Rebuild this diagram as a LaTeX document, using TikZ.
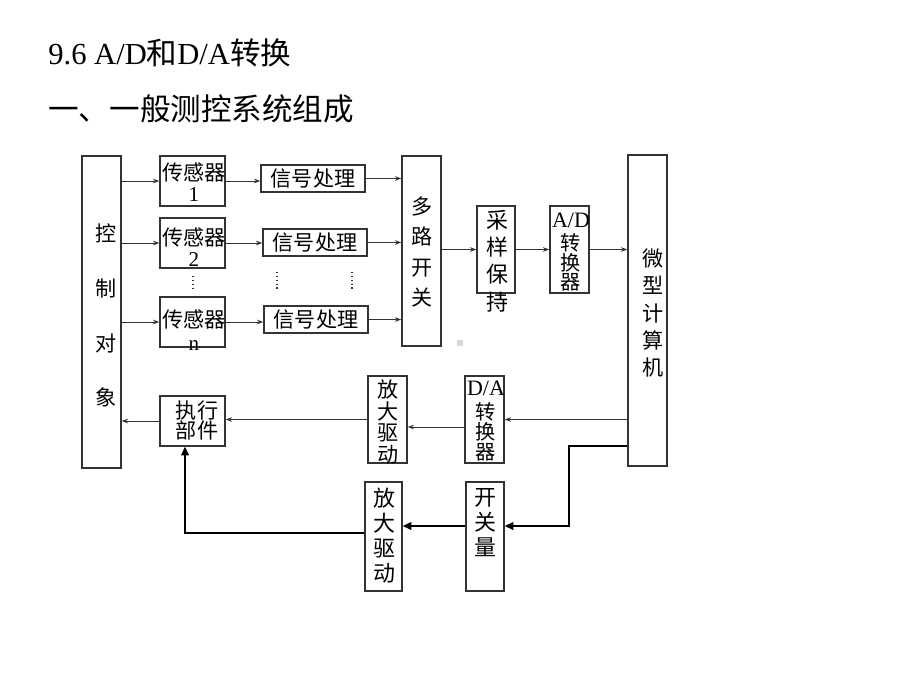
\documentclass[tikz,border=0pt]{standalone}
\usepackage{fontspec}
\setmainfont{Liberation Serif}
\newfontfamily\cn{Noto Sans CJK SC}
\usetikzlibrary{arrows.meta,calc}
\def\pxu{0.02cm}
\newcommand{\vfont}[2]{\cn\fontsize{#1}{#2}\selectfont\lineskiplimit=-100pt\lineskip=0pt}
\begin{document}
\begin{tikzpicture}[x=0.02cm,y=-0.02cm,
  box/.style={draw=black!80,line width=0.8pt,inner sep=0pt,rectangle},
  txt/.style={inner sep=0pt,align=center},
  arr/.style={draw=black!80,line width=0.5pt,-{Stealth[length=3.6pt,width=2.6pt]}},
  farr/.style={draw=black,line width=0.6pt,-{Triangle[length=5pt,width=4.5pt]}},
  dots/.style={draw=black!80,line width=0.8pt,dash pattern=on 0.6pt off 1.6pt}]
\useasboundingbox (0,0) rectangle (920,690);
% titles
\node[anchor=base west,inner sep=0pt] (title1) at (48,64)
  {\fontsize{17.4}{20}\selectfont 9.6 A/D{\cn 和}D/A{\cn 转换}};
\node[anchor=base west,inner sep=0pt] (title2) at (48,120)
  {\fontsize{17.4}{20}\selectfont\cn 一、一般测控系统组成};
% boxes
\node[box,minimum width=39*\pxu,minimum height=312*\pxu] (ctrl) at (101.5,312) {};
\node[box,minimum width=65*\pxu,minimum height=50*\pxu] (s1) at (192.5,181) {};
\node[box,minimum width=65*\pxu,minimum height=50*\pxu] (s2) at (192.5,243) {};
\node[box,minimum width=65*\pxu,minimum height=50*\pxu] (sn) at (192.5,322) {};
\node[box,minimum width=104*\pxu,minimum height=27*\pxu] (p1) at (313,178.5) {};
\node[box,minimum width=104*\pxu,minimum height=27*\pxu] (p2) at (315,242.5) {};
\node[box,minimum width=104*\pxu,minimum height=27*\pxu] (pn) at (316,319.5) {};
\node[box,minimum width=39*\pxu,minimum height=190*\pxu] (mux) at (421.5,251) {};
\node[box,minimum width=38*\pxu,minimum height=87*\pxu] (sh) at (496,249.5) {};
\node[box,minimum width=39*\pxu,minimum height=87*\pxu] (ad) at (569.5,249.5) {};
\node[box,minimum width=39*\pxu,minimum height=311*\pxu] (mcu) at (647.5,310.5) {};
\node[box,minimum width=65*\pxu,minimum height=50*\pxu] (exec) at (192.5,421) {};
\node[box,minimum width=39*\pxu,minimum height=87*\pxu] (amp1) at (387.5,419.5) {};
\node[box,minimum width=39*\pxu,minimum height=87*\pxu] (da) at (484.5,419.5) {};
\node[box,minimum width=37*\pxu,minimum height=109*\pxu] (amp2) at (383.5,536.5) {};
\node[box,minimum width=38*\pxu,minimum height=109*\pxu] (sw) at (485,536.5) {};
% texts
\node[txt,font=\vfont{12}{31.2}] (t-ctrl) at (106,315.5) {控\\制\\对\\象};
\node[txt,font=\vfont{12}{11.9}] (t-s1) at (194,182.5) {传感器\\\rmfamily 1};
\node[txt,font=\vfont{12}{11.9}] (t-s2) at (194,247.5) {传感器\\\rmfamily 2};
\node[txt,font=\vfont{12}{13.2}] (t-sn) at (194,330) {传感器\\\rmfamily n};
\node[txt,font=\vfont{12}{14}] (t-p1) at (313,178.5) {信号处理};
\node[txt,font=\vfont{12}{14}] (t-p2) at (315,242.5) {信号处理};
\node[txt,font=\vfont{12}{14}] (t-pn) at (316,319.5) {信号处理};
\node[txt,font=\vfont{12}{17.4}] (t-mux) at (422,252) {多\\路\\开\\关};
\node[txt,font=\vfont{12.5}{15.5}] (t-sh) at (497,261) {采\\样\\保\\持};
\node[txt,font=\vfont{11.5}{11}] (t-ad) at (571,252) {{\rmfamily\fontsize{12.5}{11}\selectfont A/D}\\[2.5pt]转\\换\\器};
\node[txt,font=\vfont{12}{15.6}] (t-mcu) at (653,313) {微\\型\\计\\算\\机};
\node[txt,font=\vfont{12}{11.9}] (t-exec) at (197,420.5) {执行\\部件};
\node[txt,font=\vfont{12}{12.3}] (t-amp1) at (388,422) {放\\大\\驱\\动};
\node[txt,font=\vfont{11.5}{11.3}] (t-da) at (486,421) {{\rmfamily\fontsize{12.5}{11}\selectfont D/A}\\[2.5pt]转\\换\\器};
\node[txt,font=\vfont{12.5}{14.2}] (t-amp2) at (384,535.5) {放\\大\\驱\\动};
\node[txt,font=\vfont{12.5}{14.2}] (t-sw) at (485,523) {开\\关\\量};
% dots
\draw[dots] (193,276) -- (193,290);
\draw[dots] (277,272) -- (277,289);
\draw[dots] (352,272) -- (352,289);
\fill[black!15] (457,340) rectangle (463,346);
% connectors forward
\draw[arr] (ctrl.east |- s1.west) -- (s1.west);
\draw[arr] (ctrl.east |- s2.west) -- (s2.west);
\draw[arr] (ctrl.east |- sn.west) -- (sn.west);
\draw[arr] (s1.east) -- (s1.east -| p1.west);
\draw[arr] (s2.east) -- (s2.east -| p2.west);
\draw[arr] (sn.east) -- (sn.east -| pn.west);
\draw[arr] (p1.east) -- (p1.east -| mux.west);
\draw[arr] (p2.east) -- (p2.east -| mux.west);
\draw[arr] (pn.east) -- (pn.east -| mux.west);
\draw[arr] (mux.east |- sh.west) -- (sh.west);
\draw[arr] (sh.east) -- (ad.west);
\draw[arr] (ad.east) -- (ad.east -| mcu.west);
% connectors backward
\draw[arr] (mcu.west |- da.east) -- (da.east);
\draw[arr] ([yshift=-0.15cm]da.west) -- ([yshift=-0.15cm]da.west -| amp1.east);
\draw[arr] (amp1.west) -- (amp1.west -| exec.east);
\draw[arr] (exec.west) -- (exec.west -| ctrl.east);
\coordinate (c1) at (569,446);
\coordinate (c2) at (569,526);
\coordinate (c3) at (185,533);
\draw[farr] (mcu.west |- c1) -- (c1) -- (c2) -- (c2 -| sw.east);
\draw[farr] (c2 -| sw.west) -- (c2 -| amp2.east);
\draw[farr] (amp2.west |- c3) -- (c3) -- (c3 |- exec.south);
\end{tikzpicture}
\end{document}
